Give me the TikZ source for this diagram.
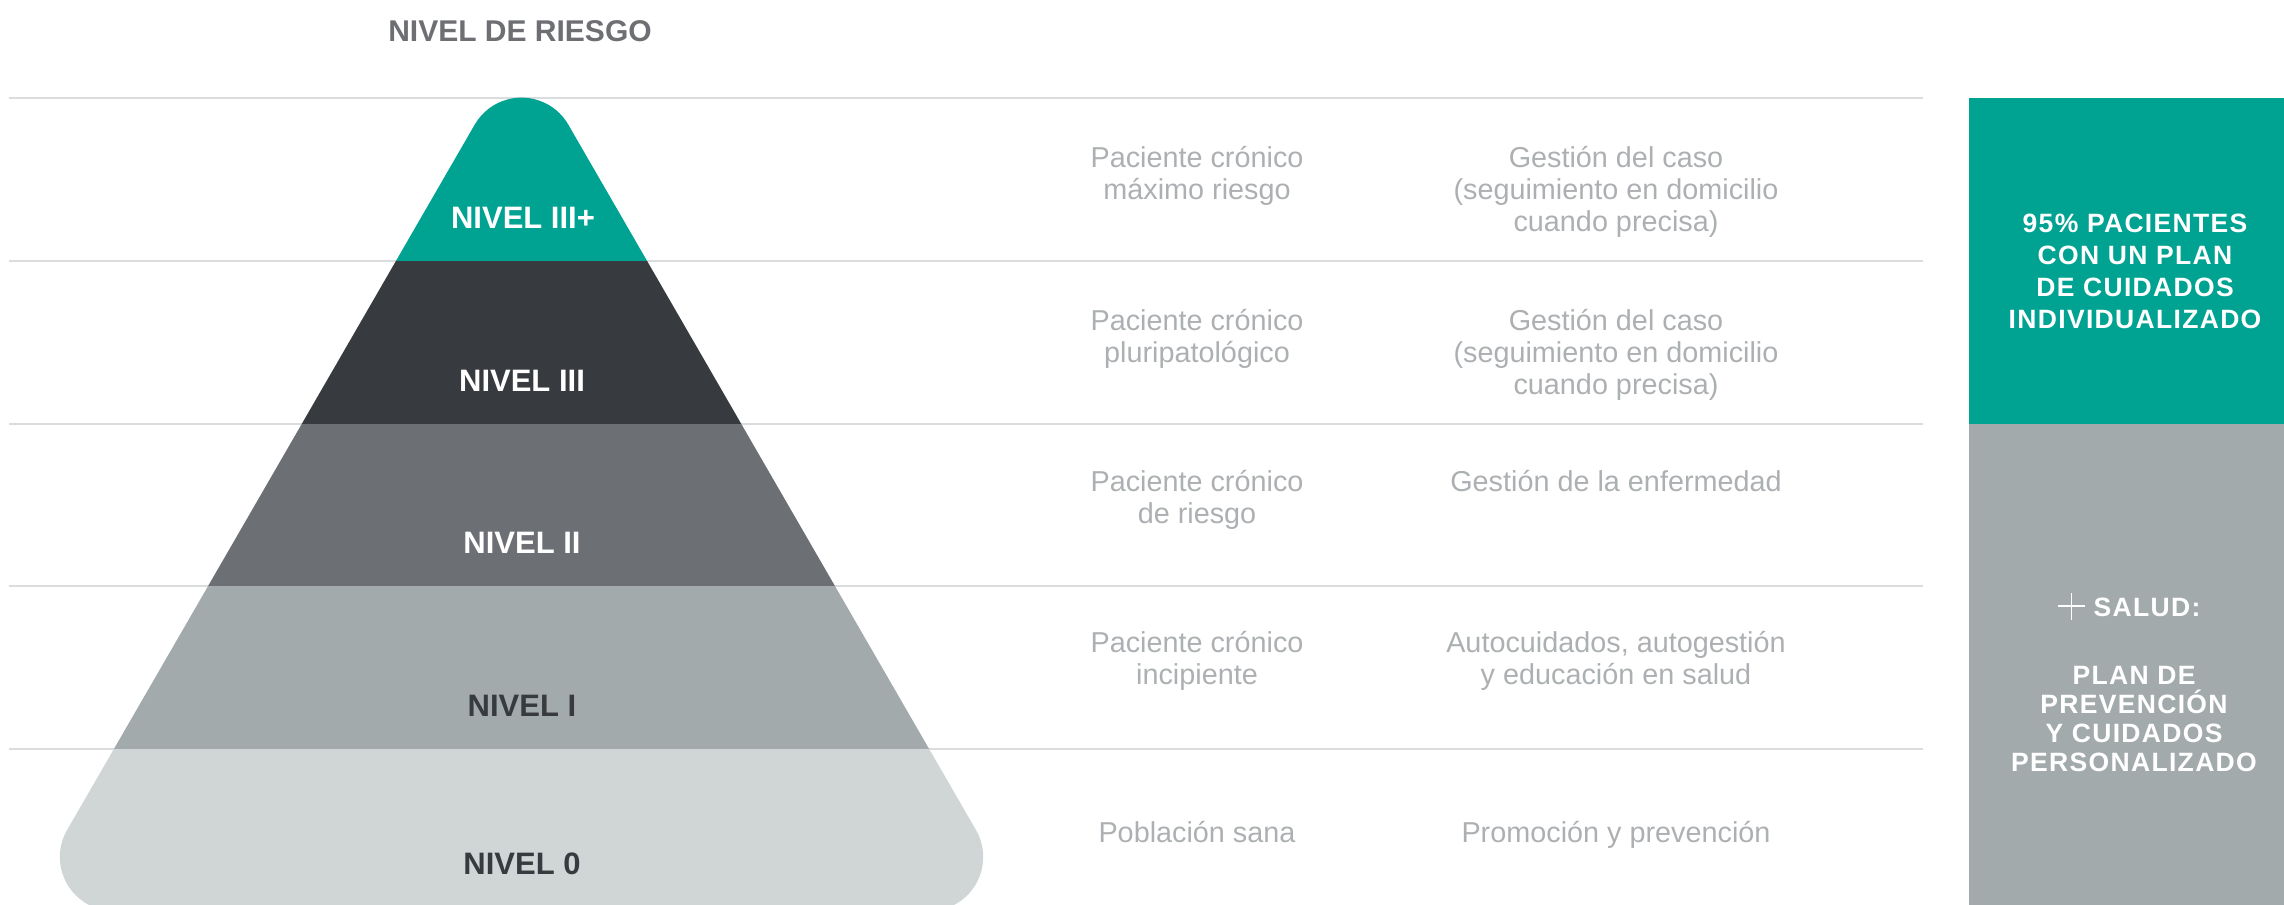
\documentclass[tikz,border=0pt]{standalone}
\usepackage{fontspec}
\setmainfont{Liberation Sans}
\newfontfamily\boxfont{Liberation Sans}[LetterSpace=5]
\definecolor{cTeal}{HTML}{00A291}
\definecolor{cDark}{HTML}{373A3E}
\definecolor{cMidG}{HTML}{6C6F74}
\definecolor{cLight}{HTML}{A3AAAC}
\definecolor{cLighter}{HTML}{D0D5D6}
\definecolor{cTitle}{HTML}{6D6F73}
\definecolor{cText}{HTML}{ADB0B2}
\definecolor{cRule}{HTML}{DBDCDD}
\begin{document}
\begin{tikzpicture}[x=1pt,y=-1pt,
  midtxt/.style={font=\fontsize{28.8}{32}\selectfont, text=cText, align=center, inner sep=0pt, anchor=base},
  lvl/.style={font=\bfseries\fontsize{31}{37}\selectfont, inner sep=0pt, anchor=base},
  boxtxt/.style={font=\boxfont\bfseries\fontsize{26.5}{32}\selectfont, text=white, align=center, inner sep=0pt, anchor=base},
  rule/.style={draw=cRule, line width=1.6pt}]
\useasboundingbox (0,0) rectangle (2284,905);
\begin{scope}
\clip (0,0) rectangle (2284,905);
% horizontal rules
\foreach \yy in {98,261,424,586,749} \draw[rule] (9,\yy) -- (1923,\yy);
% pyramid (equilateral triangle with rounded corners)
\begin{scope}
\clip (474.74,124.6) arc[start angle=210, end angle=330, radius=54]
  -- (975.97,830) arc[start angle=-30, end angle=90, radius=54]
  -- (113.85,911) arc[start angle=90, end angle=210, radius=54] -- cycle;
\fill[cTeal] (0,0) rectangle (1100,261);
\fill[cDark] (0,261) rectangle (1100,424);
\fill[cMidG] (0,424) rectangle (1100,586);
\fill[cLight] (0,586) rectangle (1100,749);
\fill[cLighter] (0,749) rectangle (1100,1000);
\end{scope}
% right boxes
\fill[cTeal] (1969,98) rectangle (2284,424);
\fill[cLight] (1969,424) rectangle (2284,905);
\end{scope}
% title
\node[lvl, font=\bfseries\fontsize{30}{36}\selectfont, text=cTitle] (title) at (520,41.7) {NIVEL DE RIESGO};
% level labels
\node[lvl, text=white] (l3p) at (523,228) {NIVEL III+};
\node[lvl, text=white] (l3) at (522,391) {NIVEL III};
\node[lvl, text=white] (l2) at (522,553) {NIVEL II};
\node[lvl, text=cDark] (l1) at (522,716) {NIVEL I};
\node[lvl, text=cDark] (l0) at (522,874) {NIVEL 0};
% middle columns (anchor = baseline of the last line)
\node[midtxt] (r1a) at (1197,199) {Paciente crónico\\máximo riesgo};
\node[midtxt] (r1b) at (1616,231) {Gestión del caso\\(seguimiento en domicilio\\cuando precisa)};
\node[midtxt] (r2a) at (1197,362) {Paciente crónico\\pluripatológico};
\node[midtxt] (r2b) at (1616,394) {Gestión del caso\\(seguimiento en domicilio\\cuando precisa)};
\node[midtxt] (r3a) at (1197,523) {Paciente crónico\\de riesgo};
\node[midtxt] (r3b) at (1616,491) {Gestión de la enfermedad};
\node[midtxt] (r4a) at (1197,684) {Paciente crónico\\incipiente};
\node[midtxt] (r4b) at (1616,684) {Autocuidados, autogestión\\y educación en salud};
\node[midtxt] (r5a) at (1197,842) {Población sana};
\node[midtxt] (r5b) at (1616,842) {Promoción y prevención};
% right box texts
\node[boxtxt] (b1) at (2135,328) {95\% PACIENTES\\CON UN PLAN\\DE CUIDADOS\\INDIVIDUALIZADO};
\node[boxtxt] (b2) at (2147,616.5) {SALUD:};
\draw[white, line width=1.7pt] (2058,606) -- (2085,606) (2071.5,593) -- (2071.5,620);
\node[boxtxt, font=\boxfont\bfseries\fontsize{26.5}{29}\selectfont] (b3) at (2134,771) {PLAN DE\\PREVENCIÓN\\Y CUIDADOS\\PERSONALIZADO};
\end{tikzpicture}
\end{document}
